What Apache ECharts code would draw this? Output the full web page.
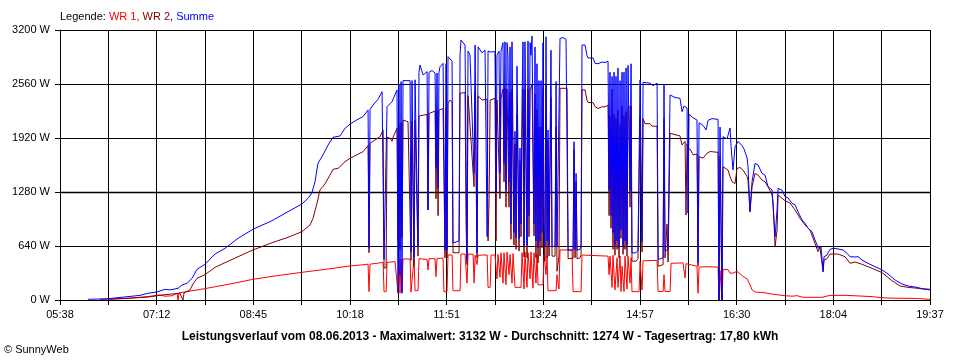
<!DOCTYPE html>
<html><head><meta charset="utf-8">
<script src="https://cdn.jsdelivr.net/npm/echarts@6/dist/echarts.min.js"></script>
<style>html,body{margin:0;padding:0;background:#fff}#c{width:960px;height:360px}</style>
</head><body><div id="c"></div>
<script>
// time axis: minutes since midnight
const T_START = 338;   // 05:38
const T_END = 1177;    // 19:37
const tickLabels = ['05:38','07:12','08:45','10:18','11:51','13:24','14:57','16:30','18:04','19:37'];
const yMax = 3200, yStep = 640;
const average = 1274;

const wr1 = [
[376.6,5],[403.6,20],[421.9,40],[434.4,60],[439.3,45],[446.0,50],[450.9,80],[451.8,0],[452.8,85],[460.5,99],[477.8,135],[500.0,185],[524.1,245],[548.0,290],[571.4,328],[595.0,365],[617.7,403],
[632.2,420],[635.1,425],[636.0,99],[637.0,425],[646.6,440],[649.6,445],[650.5,99],[652.5,99],[653.4,445],[661.1,455],[663.0,460],[664.0,80],[664.9,490],[665.9,80],[666.9,480],[667.8,90],[668.8,486],[670.7,470],[675.6,486],[676.5,95],[678.4,95],[679.4,486],[680.4,110],[683.3,110],[684.2,490],[692.0,480],[692.9,356],[693.9,490],[699.7,490],[700.6,277],[701.6,490],[704.5,495],[707.4,495],[708.3,99],[711.2,99],[712.2,533],[716.1,533],[717.0,110],[723.8,110],[724.7,545],[728.6,545],[730.5,200],[731.5,545],[736.4,540],[737.3,200],[738.3,530],[740.2,420],[741.2,530],[745.0,533],[749.9,533],[750.8,150],[752.8,150],[753.7,533],[757.5,533],
[759.4,250],[760.4,540],[762.3,270],[763.3,560],[765.2,200],[766.2,560],[768.1,180],[769.1,570],[771.0,300],[772.0,540],[773.9,200],[774.9,550],[776.8,150],[782.6,150],[783.6,560],[785.5,130],[786.4,570],[788.4,150],[789.3,560],[791.3,250],[792.2,570],[794.1,140],[795.1,560],[797.0,200],[798.0,540],[799.0,180],[803.8,180],[804.8,540],[806.7,300],[807.7,520],[808.6,110],[816.4,110],[817.3,300],[819.2,130],[820.2,593],[831.7,593],[832.8,99],[840.5,99],[841.4,533],[866.5,520],[867.5,300],[868.4,520],[870.4,150],[871.3,530],[873.2,120],[875.2,500],[876.1,150],[878.1,520],[879.0,100],[880.0,400],[881.9,100],[882.9,520],[884.8,130],[885.8,520],[887.7,200],[888.7,500],[889.6,99],[896.4,99],
[897.4,454],[898.3,454],[899.3,118],[900.3,465],[913.8,470],[914.8,100],[919.6,100],[920.5,300],[921.5,100],[926.3,100],[927.3,435],[938.8,440],[940.8,261],[941.7,430],[943.6,407],[952.3,400],[953.3,80],[954.3,390],[955.2,395],[962.0,395],[972.6,390],[973.5,0],[974.5,350],[975.5,350],[976.4,0],[977.4,363],[982.2,360],[984.2,316],[987.0,320],[990.9,340],[993.8,310],[996.7,280],[1000.6,250],[1003.4,180],[1005.4,120],[1008.3,95],[1013.1,90],[1017.9,85],[1024.7,70],[1037.2,51],
[1043.9,45],[1048.7,51],[1054.5,32],[1072.9,32],[1080.6,55],[1097.0,55],[1098.0,40],[1121.2,40],[1130.0,28],[1140.4,22],[1165.0,18],[1177.0,8]
];

const wr2 = [
[384.3,10],[403.6,20],[422.9,35],[437.3,60],[448.9,75],[453.7,80],[456.6,0],[457.6,85],[463.4,118],[466.3,190],[470.1,257],[477.8,300],[487.5,387],[497.1,442],[509.7,513],[524.1,593],[542.5,679],[557.9,743],[571.4,810],[579.1,889],[582.0,968],[585.8,1146],[588.7,1304],[593.5,1375],[598.4,1481],[601.3,1549],[606.1,1560],[612.9,1639],[617.7,1679],
[630.2,1758],[635.1,1830],[636.0,560],[637.0,1857],[646.6,1936],[649.6,2015],[650.5,380],[652.5,380],[653.4,1930],[656.3,1916],[658.2,1880],[659.2,1930],[663.0,2035],[664.0,700],[664.9,2080],[665.9,600],[666.9,2100],[667.8,750],[668.8,2133],[673.6,2113],[676.5,470],[677.5,2120],[679.4,400],[680.4,2130],[683.3,520],[684.2,2180],[685.2,2193],[692.0,2200],[692.9,1067],[693.9,2210],[694.8,2220],[699.7,2240],[700.6,1200],[701.6,2240],[702.6,1000],[703.5,2250],[704.5,2264],[707.4,2270],[709.3,500],[710.3,2280],[711.2,500],[712.2,2330],[714.1,2370],[716.1,2350],[717.0,560],[722.8,560],[723.8,2450],[724.7,2469],[728.6,2460],[729.6,900],[730.5,420],[731.5,2420],[733.4,2410],[737.3,1343],[738.3,2469],[740.2,500],[741.2,2420],[745.0,2370],[749.9,2380],[750.8,700],[751.8,1200],[752.8,2370],[757.5,2390],
[758.5,700],[759.4,2370],[762.3,1200],[763.3,2390],[765.2,2500],[766.2,1400],[767.1,2509],[768.1,1100],[769.1,2500],[771.0,1100],[772.0,2460],[772.9,720],[773.9,2500],[775.8,650],[776.8,1850],[777.8,600],[778.7,2200],[780.7,580],[781.6,1650],[782.6,750],[783.6,1850],[784.5,2500],[785.5,510],[786.4,2490],[787.4,2509],[788.4,500],[789.3,2500],[790.3,750],[791.3,2480],[793.2,2560],[794.1,2560],[795.1,760],[796.1,2440],[797.0,500],[798.0,2260],[799.0,440],[799.9,2050],[800.9,520],[801.9,2050],[802.8,620],[803.8,2500],[804.8,700],[805.7,460],[806.7,2550],[807.7,500],[808.6,1900],[809.6,520],[810.6,520],[811.5,2400],[812.5,520],[813.5,500],[815.4,520],[816.4,2050],[817.3,340],[819.2,520],[820.2,2509],[827.0,2509],[828.0,490],[832.8,494],[833.7,1780],[834.7,500],[835.7,1400],[836.6,490],[839.5,500],[840.5,540],[841.4,2490],[844.3,2490],[846.2,2370],[847.2,2340],[852.0,2340],[854.0,2291],[856.8,2270],[860.7,2290],[863.6,2290],[866.5,2310],[867.5,1000],[868.4,2180],[869.4,850],[870.4,2500],[871.3,600],[872.3,2200],[873.2,530],[874.2,2150],[875.2,600],[876.1,2250],[877.1,500],[878.1,2080],[879.0,730],[880.0,2300],[881.0,540],[881.9,2180],[882.9,600],[883.9,2230],[884.8,520],[885.8,2260],[886.8,2300],[887.7,1100],[888.7,2300],[889.6,460],[893.5,460],[895.4,490],[896.4,480],
[897.4,2157],[898.3,2150],[899.3,569],[900.3,2150],[902.2,2090],[907.0,2090],[908.9,2060],[913.8,2060],[914.8,400],[919.6,420],[920.5,2150],[921.5,500],[923.4,900],[924.4,450],[926.3,1975],[935.9,1945],[937.9,1837],[940.8,1880],[941.7,1007],[942.7,1850],[943.6,1790],[945.6,1790],[948.5,1720],[952.3,1730],[953.3,400],[954.3,1700],[958.1,1680],[962.0,1740],[964.9,1760],[972.6,1750],[973.5,0],[974.5,1700],[975.5,1700],[976.4,0],[977.4,1580],[982.2,1540],[984.2,1462],[986.1,1402],[989.0,1380],[990.9,1560],[993.8,1570],[996.7,1540],[1000.6,1462],[1001.5,1420],[1003.4,1047],[1005.4,1343],[1008.3,1501],[1011.2,1480],[1015.0,1422],[1017.9,1400],[1020.8,1343],[1024.7,1244],[1025.7,1150],[1027.6,632],[1029.5,830],[1030.5,1244],[1032.4,1230],[1037.2,1177],
[1042.0,1150],[1046.8,1067],[1051.7,968],[1056.5,889],[1061.3,830],[1066.1,672],[1069.0,573],[1070.9,620],[1073.9,336],[1074.8,474],[1077.7,490],[1080.6,545],[1088.3,545],[1095.1,513],[1099.9,435],[1104.7,450],[1111.5,423],[1121.2,375],[1130.8,324],[1140.4,229],[1148.1,166],[1155.8,150],[1165.5,138],[1177.0,119]
];

const summe = [
[365.0,8],[384.3,15],[403.6,40],[415.2,55],[422.9,80],[431.6,95],[439.3,127],[444.1,120],[451.8,138],[455.7,178],[460.5,198],[465.3,257],[470.1,363],[477.8,423],[487.5,545],[497.1,612],[509.7,731],[524.1,838],[542.5,940],[557.9,1047],[571.4,1138],[577.2,1205],[581.0,1272],[583.9,1402],[586.8,1620],[591.6,1719],[596.5,1837],[601.3,1928],[608.0,1944],[612.9,2035],[617.7,2085],
[623.5,2130],[630.2,2173],[635.1,2252],[636.0,616],[637.0,2260],[639.9,2311],[644.7,2380],[648.6,2469],[650.5,480],[651.5,480],[653.4,2291],[658.2,2350],[663.0,2489],[664.0,90],[664.9,2560],[665.9,300],[666.9,2588],[667.8,80],[668.8,2600],[670.7,2607],[675.6,2600],[676.5,573],[677.5,2600],[679.4,500],[680.4,2610],[683.3,632],[684.2,2700],[685.2,2785],[688.1,2667],[692.0,2706],[692.9,1067],[693.9,2700],[696.8,2720],[699.7,2690],[700.6,1560],[701.6,2690],[702.6,1327],[703.5,2700],[704.5,2765],[707.4,2805],[709.3,593],[710.3,2800],[711.2,593],[712.2,2884],[716.1,2830],[717.0,675],[722.8,700],[723.8,2900],[724.7,3081],[728.6,3020],[729.6,3000],[730.5,474],[731.5,2950],[733.4,2904],[737.3,1500],[738.3,3022],[740.2,557],[741.2,3000],[745.0,2930],[747.9,2960],[749.9,750],[750.8,2950],[752.8,2940],[757.5,2943],
[758.5,1270],[759.4,2900],[761.4,2950],[762.3,1500],[763.3,2950],[765.2,3050],[766.2,1620],[767.1,3060],[768.1,1300],[769.1,3050],[770.0,2900],[771.0,1400],[772.0,3000],[772.9,900],[773.9,3060],[774.9,3050],[775.8,800],[776.8,2000],[777.8,740],[778.7,2770],[779.7,2765],[780.7,730],[781.6,1800],[782.6,900],[783.6,2400],[784.5,3060],[785.5,640],[786.4,3060],[787.4,3070],[788.4,650],[789.3,3070],[790.3,1000],[791.3,3050],[792.2,2900],[793.2,3129],[794.1,3120],[795.1,900],[796.1,3000],[797.0,700],[798.0,2800],[799.0,620],[799.9,2600],[800.9,700],[801.9,2600],[802.8,800],[803.8,3050],[804.8,900],[805.7,640],[806.7,3120],[807.7,700],[808.6,2015],[809.6,630],[810.6,630],[811.5,2960],[812.5,630],[813.5,620],[815.4,640],[816.4,2590],[817.3,640],[819.2,650],[820.2,3100],[823.1,3110],[826.0,3090],[827.0,3080],[828.0,590],[832.8,593],[833.7,1876],[834.7,600],[835.7,1500],[836.6,590],[839.5,600],[840.5,640],[841.4,3022],[844.3,3022],[846.2,2900],[847.2,2868],[852.0,2870],[854.0,2805],[856.8,2800],[860.7,2820],[863.6,2815],[866.5,2830],[867.5,1300],[868.4,2700],[869.4,1000],[870.4,2650],[871.3,800],[872.3,2700],[873.2,650],[874.2,2650],[875.2,700],[876.1,2750],[877.1,620],[878.1,2600],[879.0,830],[880.0,2700],[881.0,640],[881.9,2700],[882.9,700],[883.9,2750],[884.8,650],[885.8,2780],[886.8,2800],[887.7,1300],[888.7,2800],[889.6,557],[893.5,560],[895.4,590],[896.4,580],
[897.4,2607],[898.3,2600],[899.3,690],[900.3,2580],[902.2,2560],[907.0,2570],[909.9,2540],[913.8,2570],[914.8,480],[919.6,500],[920.5,2560],[921.5,580],[924.4,600],[926.3,2430],[931.1,2400],[935.9,2390],[937.9,2232],[939.8,2300],[942.7,2276],[943.6,1030],[944.6,2200],[945.6,2193],[948.5,2160],[952.3,2133],[953.3,440],[954.3,2100],[958.1,2070],[961.1,2015],[963.0,2130],[966.8,2150],[972.6,2140],[973.5,0],[974.5,2050],[975.5,2050],[976.4,0],[977.4,1936],[981.3,1910],[984.2,2039],[985.1,1830],[987.0,1541],[989.0,1817],[991.9,1880],[993.8,1860],[995.7,1830],[997.6,1790],[1000.6,1683],[1001.5,1580],[1003.4,1047],[1005.4,1402],[1008.3,1620],[1011.2,1600],[1015.0,1501],[1017.9,1480],[1020.8,1343],[1024.7,1304],[1025.7,1106],[1027.6,750],[1029.5,1067],[1030.5,1323],[1034.4,1300],[1037.2,1225],
[1040.1,1210],[1043.9,1146],[1046.8,1130],[1049.7,1047],[1053.6,948],[1056.5,909],[1059.4,850],[1063.2,810],[1066.1,711],[1068.1,652],[1069.0,613],[1071.9,630],[1073.9,336],[1074.8,513],[1077.7,533],[1078.7,560],[1080.6,600],[1083.5,613],[1088.3,605],[1093.1,593],[1097.0,553],[1099.9,513],[1104.7,510],[1107.6,513],[1111.5,474],[1117.2,435],[1124.0,395],[1130.8,356],[1136.5,308],[1143.3,237],[1150.0,190],[1155.8,166],[1164.5,150],[1169.3,134],[1177.0,127]
];

const FONT = 'Liberation Sans';
const gridSteps = (tickLabels.length - 1) * 2;

const chart = echarts.init(document.getElementById('c'), null, {renderer: 'canvas'});
chart.setOption({
  animation: false,
  backgroundColor: '#ffffff',
  textStyle: {fontFamily: FONT},
  title: [
    {
      left: 60, top: 11, padding: 0,
      text: '{k|Legende: }{a|WR 1, }{b|WR 2, }{c|Summe}',
      textStyle: {
        fontSize: 11, fontFamily: FONT, fontWeight: 'normal',
        rich: {
          k: {color: '#000000', fontSize: 11, fontFamily: FONT, fontWeight: 'normal'},
          a: {color: '#ff0000', fontSize: 11, fontFamily: FONT, fontWeight: 'normal'},
          b: {color: '#800000', fontSize: 11, fontFamily: FONT, fontWeight: 'normal'},
          c: {color: '#0000ff', fontSize: 11, fontFamily: FONT, fontWeight: 'normal'}
        }
      }
    },
    {
      left: 'center', top: 331, padding: 0,
      text: 'Leistungsverlauf vom 08.06.2013 - Maximalwert: 3132 W - Durchschnitt: 1274 W - Tagesertrag: 17,80 kWh',
      textStyle: {fontSize: 12, fontWeight: 'bold', color: '#000000', fontFamily: FONT}
    },
    {
      left: 4, top: 344, padding: 0,
      text: '© SunnyWeb',
      textStyle: {fontSize: 11, fontWeight: 'normal', color: '#000000', fontFamily: FONT}
    }
  ],
  grid: {left: 60, right: 30, top: 30, bottom: 60, containLabel: false},
  xAxis: [
    {type: 'value', min: T_START, max: T_END, show: false},
    {
      type: 'value', min: 0, max: gridSteps, interval: 1, position: 'bottom',
      axisLine: {show: true, lineStyle: {color: '#000000', width: 1}},
      axisTick: {show: true, length: 5, lineStyle: {color: '#000000', width: 1}},
      splitLine: {show: true, lineStyle: {color: '#000000', width: 1}},
      axisLabel: {
        margin: 9, color: '#000000', fontSize: 11, fontFamily: FONT,
        formatter: function (v) { return (v % 2 === 0) ? tickLabels[v / 2] : ''; }
      }
    }
  ],
  yAxis: {
    type: 'value', min: 0, max: yMax, interval: yStep,
    axisLine: {show: true, lineStyle: {color: '#000000', width: 1}},
    axisTick: {show: true, length: 5, lineStyle: {color: '#000000', width: 1}},
    splitLine: {show: true, lineStyle: {color: '#000000', width: 1}},
    axisLabel: {margin: 10, color: '#000000', fontSize: 11, fontFamily: FONT,
      formatter: function (v) { return String(v) + ' W'; }}
  },
  series: [
    {
      name: 'Durchschnitt', type: 'line', xAxisIndex: 0, z: -1,
      data: [[T_START, average], [T_END, average]],
      symbol: 'none', showSymbol: false, silent: true,
      lineStyle: {color: '#808080', width: 2},
      emphasis: {disabled: true}
    },
    {
      name: 'WR 1', type: 'line', xAxisIndex: 0, data: wr1,
      symbol: 'none', showSymbol: false, color: '#ff0000',
      lineStyle: {color: '#ff0000', width: 1},
      emphasis: {disabled: true}
    },
    {
      name: 'WR 2', type: 'line', xAxisIndex: 0, data: wr2,
      symbol: 'none', showSymbol: false, color: '#800000',
      lineStyle: {color: '#800000', width: 1},
      emphasis: {disabled: true}
    },
    {
      name: 'Summe', type: 'line', xAxisIndex: 0, data: summe,
      symbol: 'none', showSymbol: false, color: '#0000ff',
      lineStyle: {color: '#0000ff', width: 1},
      emphasis: {disabled: true}
    }
  ]
});
</script>
</body></html>
